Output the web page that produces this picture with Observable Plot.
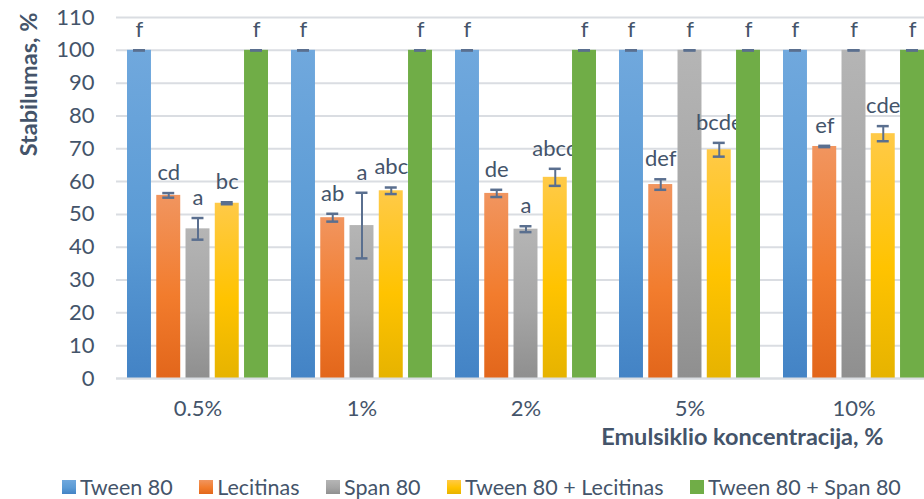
<!DOCTYPE html>
<html>
<head>
<meta charset="utf-8">
<script src="https://cdn.jsdelivr.net/npm/d3@7"></script>
<script src="https://cdn.jsdelivr.net/npm/@observablehq/plot@0.6"></script>
<style>
  html, body { margin: 0; padding: 0; background: #ffffff; }
  body { width: 924px; height: 499px; overflow: hidden; font-family: Lato, "Open Sans", sans-serif; }
  #chart svg { display: block; }
  #legend { display: flex; align-items: center; height: 25px; padding-left: 62px; color: #44546a; font-size: 21.5px; white-space: nowrap; }
  #legend .item { display: flex; align-items: center; margin-right: 26.5px; }
  #legend .swatch { width: 14px; height: 14px; margin-right: 4px; }
</style>
</head>
<body>
<div id="chart"></div>
<div id="legend"></div>
<script>
// Emulsion stability (%) by emulsifier and emulsifier concentration
const concentrations = ["0.5%", "1%", "2%", "5%", "10%"];
const emulsifiers = ["Tween 80", "Lecitinas", "Span 80", "Tween 80 + Lecitinas", "Tween 80 + Span 80"];
const yTicks = [0, 10, 20, 30, 40, 50, 60, 70, 80, 90, 100, 110];

const tween80 = [100, 100, 100, 100, 100];
const tween80Err = [0, 0, 0, 0, 0];
const tween80Letters = ["f", "f", "f", "f", "f"];

const lecitinas = [55.8, 49.0, 56.4, 59.1, 70.7];
const lecitinasErr = [0.7, 1.2, 1.1, 1.6, 0.2];
const lecitinasLetters = ["cd", "ab", "de", "def", "ef"];

const span80 = [45.6, 46.6, 45.5, 100, 100];
const span80Err = [3.3, 10.0, 0.9, 0, 0];
const span80Letters = ["a", "a", "a", "f", "f"];

const tweenLecitinas = [53.4, 57.2, 61.3, 69.7, 74.6];
const tweenLecitinasErr = [0.3, 1.0, 2.6, 2.1, 2.3];
const tweenLecitinasLetters = ["bc", "abc", "abcd", "bcde", "cde"];

const tweenSpan = [100, 100, 100, 100, 100];
const tweenSpanErr = [0, 0, 0, 0, 0];
const tweenSpanLetters = ["f", "f", "f", "f", "f"];

const seriesValues = [tween80, lecitinas, span80, tweenLecitinas, tweenSpan];
const seriesErrors = [tween80Err, lecitinasErr, span80Err, tweenLecitinasErr, tweenSpanErr];
const seriesLetters = [tween80Letters, lecitinasLetters, span80Letters, tweenLecitinasLetters, tweenSpanLetters];

// Vertical gradients for each series (top, middle, bottom)
const gradients = [
  ["#70a8dd", "#5b9bd5", "#4383c5"],
  ["#f1955f", "#f27c2d", "#e2661b"],
  ["#b5b5b5", "#a5a5a5", "#8f8f8f"],
  ["#ffca48", "#ffc300", "#e6b300"],
  ["#70ad47", "#70ad47", "#70ad47"]
];

const rows = [];
emulsifiers.forEach((name, si) => {
  concentrations.forEach((conc, ci) => {
    rows.push({
      conc, name, si,
      value: seriesValues[si][ci],
      err: seriesErrors[si][ci],
      letter: seriesLetters[si][ci]
    });
  });
});

const width = 924, height = 474;
const plotLeft = 116, plotRight = 936;   // category axis continues past the right edge
const bandPad = 0.14, outerPad = 0.07;
const step = (plotRight - plotLeft) / (concentrations.length - bandPad + 2 * outerPad);
const bandwidth = step * (1 - bandPad);
const barGap = 5.25;
const barW = (bandwidth - barGap * 4) / 5;
const slot = barW + barGap;
const capHalf = 6;

const textColor = "#44546a";
const errColor = "#5a6f8f";
const fontSize = 22;
const titleSize = 23.5;

const marks = [
  Plot.gridY(yTicks, {stroke: "#dadde2", strokeOpacity: 1, strokeWidth: 2}),
  Plot.axisY(yTicks, {tickSize: 0, tickPadding: 22, fontSize, fill: textColor, label: null}),
  Plot.axisX({tickSize: 0, tickPadding: 22, fontSize, fill: textColor, label: null})
];

emulsifiers.forEach((name, si) => {
  const data = rows.filter(d => d.si === si);
  const insetL = si * slot, insetR = (4 - si) * slot;
  const dx = (si - 2) * slot;
  const capL = insetL + barW / 2 - capHalf, capR = insetR + barW / 2 - capHalf;
  marks.push(
    Plot.barY(data, {x: "conc", y: "value", fill: `url(#grad${si})`, insetLeft: insetL, insetRight: insetR}),
    Plot.ruleX(data, {x: "conc", y1: d => d.value - d.err, y2: d => d.value + d.err, dx, stroke: errColor, strokeWidth: 2}),
    Plot.tickY(data, {x: "conc", y: d => d.value + d.err, insetLeft: capL, insetRight: capR, stroke: errColor, strokeWidth: 2.5}),
    Plot.tickY(data, {x: "conc", y: d => d.value - d.err, insetLeft: capL, insetRight: capR, stroke: errColor, strokeWidth: 2.5}),
    Plot.text(data, {x: "conc", y: d => d.value + d.err, text: "letter", dx, dy: -13, lineAnchor: "bottom", fontSize, fill: textColor})
  );
});

marks.push(
  Plot.ruleY([0], {stroke: "#dadde2", strokeWidth: 2}),
  Plot.text(["Emulsiklio koncentracija, %"], {frameAnchor: "bottom-right", textAnchor: "end", dx: -41, dy: 66, fontSize: titleSize, fontWeight: "bold", fill: textColor}),
  Plot.text(["Stabilumas, %"], {frameAnchor: "top-left", textAnchor: "end", rotate: -90, dx: -96, dy: -5, fontSize: titleSize, fontWeight: "bold", fill: textColor})
);

const svg = Plot.plot({
  width, height,
  marginLeft: plotLeft, marginRight: 0, marginTop: 17, marginBottom: height - 378,
  style: {fontFamily: "Lato, 'Open Sans', sans-serif", color: textColor, background: "#ffffff", overflow: "visible"},
  x: {type: "band", domain: concentrations, range: [plotLeft, plotRight], paddingInner: bandPad, paddingOuter: outerPad},
  y: {domain: [0, 110]},
  marks
});

// Gradient definitions referenced by the bar fills
const defs = d3.select(svg).insert("defs", ":first-child");
gradients.forEach((stops, i) => {
  const g = defs.append("linearGradient").attr("id", `grad${i}`).attr("x1", 0).attr("y1", 0).attr("x2", 0).attr("y2", 1);
  g.append("stop").attr("offset", "0%").attr("stop-color", stops[0]);
  g.append("stop").attr("offset", "55%").attr("stop-color", stops[1]);
  g.append("stop").attr("offset", "100%").attr("stop-color", stops[2]);
});

document.getElementById("chart").appendChild(svg);

// Legend
const legend = d3.select("#legend");
emulsifiers.forEach((name, i) => {
  const item = legend.append("div").attr("class", "item");
  item.append("div").attr("class", "swatch")
    .style("background", `linear-gradient(${gradients[i][0]}, ${gradients[i][1]} 55%, ${gradients[i][2]})`);
  item.append("span").text(name);
});
</script>
</body>
</html>
